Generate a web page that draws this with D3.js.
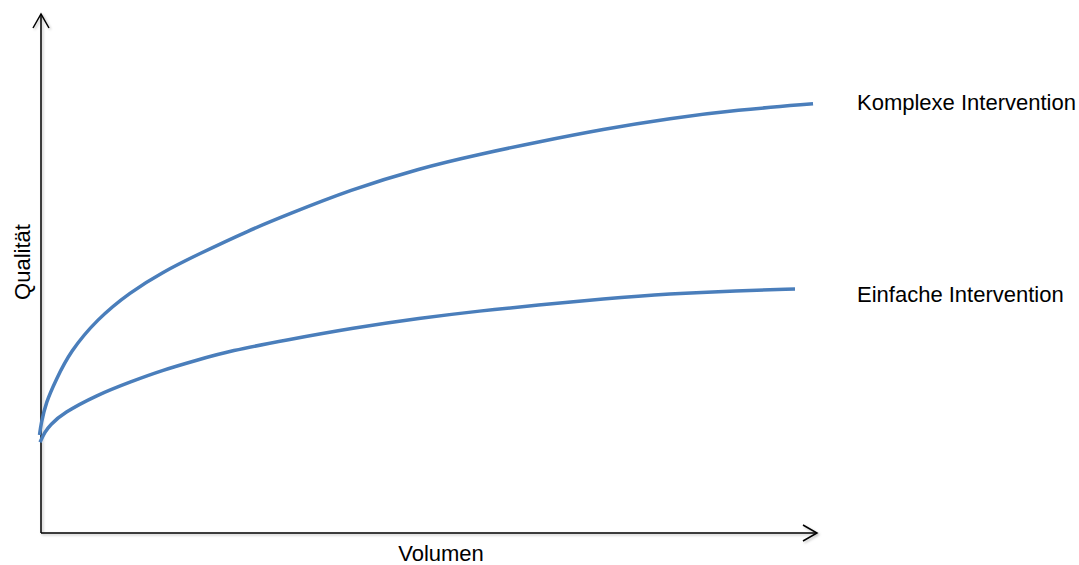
<!DOCTYPE html>
<html>
<head>
<meta charset="utf-8">
<script src="https://cdn.jsdelivr.net/npm/d3@7"></script>
<style>
  html, body { margin: 0; padding: 0; background: #fff; }
  svg { display: block; }
  text { font-family: "Liberation Sans", Arial, Helvetica, sans-serif; fill: #000; }
</style>
</head>
<body>
<svg id="chart" width="1079" height="565"></svg>
<script>
// Volume (x) and quality (y) samples for both curves, in axis units 0..100
const volumenKomplex = [-0.19, 0, 0.64, 1.93, 3.73, 7.21, 11.45, 15.7, 20.08, 26.9, 31.66, 39.77, 48.78, 56.5, 63.84, 72.33, 80.95, 89.58, 99.36];
const qualitaetKomplex = [18.9, 21.0, 25.2, 29.5, 34.9, 41.2, 46.4, 50.3, 53.6, 58.4, 61.3, 66.1, 70.3, 73.0, 75.3, 77.8, 79.9, 81.5, 82.7];

const volumenEinfach = [-0.13, 0.51, 1.16, 2.83, 7.21, 11.45, 15.7, 20.08, 24.32, 31.66, 40.15, 48.78, 56.5, 63.84, 72.33, 80.95, 89.58, 97.04];
const qualitaetEinfach = [17.5, 19.5, 20.8, 23.1, 26.6, 29.1, 31.4, 33.3, 35.1, 37.2, 39.5, 41.4, 42.8, 43.9, 45.1, 46.1, 46.7, 47.0];

const seriesNames = ["Komplexe Intervention", "Einfache Intervention"];
const xAxisTitle = "Volumen";
const yAxisTitle = "Qualität";

const svg = d3.select("#chart");

const x = d3.scaleLinear().domain([0, 100]).range([41, 818]);
const y = d3.scaleLinear().domain([0, 100]).range([533, 14]);

// soft shadow under the axis lines
const defs = svg.append("defs");
const f = defs.append("filter").attr("id", "axisShadow")
  .attr("x", "-5%").attr("y", "-5%").attr("width", "110%").attr("height", "110%");
f.append("feDropShadow").attr("dx", 1.5).attr("dy", 1.5).attr("stdDeviation", 1.2)
  .attr("flood-color", "#000").attr("flood-opacity", 0.25);

const axes = svg.append("g").attr("filter", "url(#axisShadow)")
  .attr("stroke", "#000").attr("stroke-width", 1.5).attr("fill", "none");

const x0 = x(0), y0 = y(0), xEnd = x(100) - 1, yEnd = y(100);

// y axis with open arrowhead
axes.append("line").attr("x1", x0).attr("y1", y0).attr("x2", x0).attr("y2", yEnd);
axes.append("path").attr("d", d3.line()([[x0 - 8, yEnd + 14], [x0, yEnd], [x0 + 8, yEnd + 14]]));

// x axis with open arrowhead
axes.append("line").attr("x1", x0).attr("y1", y0).attr("x2", xEnd).attr("y2", y0);
axes.append("path").attr("d", d3.line()([[xEnd - 14, y0 - 8], [xEnd, y0], [xEnd - 14, y0 + 8]]));

// smooth curves through the samples
const line = d3.line()
  .x(d => x(d[0]))
  .y(d => y(d[1]))
  .curve(d3.curveBasis);

const komplex = volumenKomplex.map((v, i) => [v, qualitaetKomplex[i]]);
const einfach = volumenEinfach.map((v, i) => [v, qualitaetEinfach[i]]);

svg.selectAll("path.curve")
  .data([komplex, einfach])
  .join("path")
  .attr("class", "curve")
  .attr("d", line)
  .attr("fill", "none")
  .attr("stroke", "#4a7ebb")
  .attr("stroke-width", 3.5)
  .attr("stroke-linecap", "butt");

// curve labels, to the right of each curve's end
const labelY = [qualitaetKomplex[qualitaetKomplex.length - 1], qualitaetEinfach[qualitaetEinfach.length - 1]];
const labelDy = [6, 13];
svg.selectAll("text.series")
  .data(seriesNames)
  .join("text")
  .attr("class", "series")
  .attr("x", 857)
  .attr("y", (d, i) => y(labelY[i]) + labelDy[i])
  .attr("font-size", 22)
  .text(d => d);

// axis titles
svg.append("text")
  .attr("x", 441).attr("y", 561)
  .attr("text-anchor", "middle")
  .attr("font-size", 22)
  .text(xAxisTitle);

svg.append("text")
  .attr("transform", "translate(30,262) rotate(-90)")
  .attr("text-anchor", "middle")
  .attr("font-size", 22)
  .text(yAxisTitle);
</script>
</body>
</html>
